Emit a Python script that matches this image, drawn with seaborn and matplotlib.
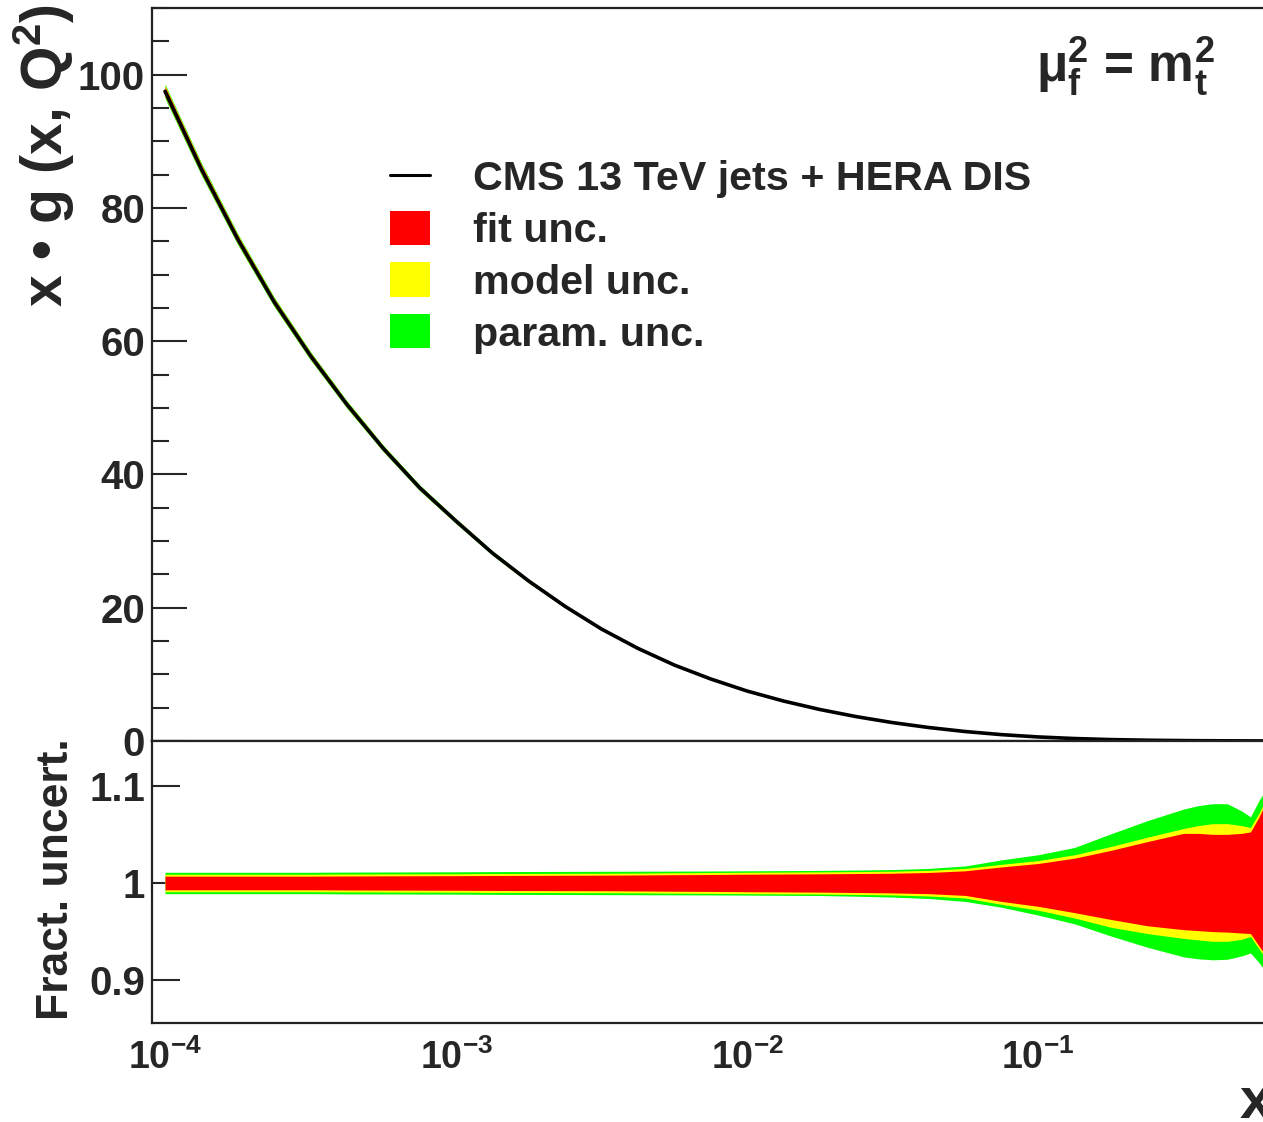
import numpy as np
import pandas as pd
import matplotlib
matplotlib.use('Agg')
import matplotlib.pyplot as plt
import seaborn as sns
from matplotlib.lines import Line2D
from matplotlib.patches import Patch
from matplotlib.ticker import MultipleLocator, FixedLocator, NullFormatter, FuncFormatter, LogLocator

# ---- values ---------------------------------------------------------------
x_vals = [1.0e-4, 1.334e-4, 1.778e-4, 2.371e-4, 3.162e-4, 4.217e-4, 5.623e-4, 7.499e-4,
          1.0e-3, 1.334e-3, 1.778e-3, 2.371e-3, 3.162e-3, 4.217e-3, 5.623e-3, 7.499e-3,
          1.0e-2, 1.334e-2, 1.778e-2, 2.371e-2, 3.162e-2, 4.217e-2, 5.623e-2, 7.499e-2,
          0.1, 0.1334, 0.1778, 0.2371, 0.3162, 0.355, 0.398, 0.447, 0.501, 0.537,
          0.575, 0.617, 0.652]

xg_central = [97.5, 85.8, 75.3, 65.9, 57.8, 50.5, 43.9, 38.0,
              33.0, 28.2, 24.0, 20.2, 16.8, 13.9, 11.4, 9.31,
              7.5, 6.0, 4.73, 3.66, 2.76, 2.02, 1.42, 0.954,
              0.61, 0.37, 0.213, 0.117, 0.061, 0.047, 0.036, 0.027, 0.020, 0.017,
              0.0135, 0.011, 0.009]

# fractional bands (upper / lower edge)
fit_up = [1.0070, 1.0070, 1.0070, 1.0070, 1.0070, 1.0072, 1.0073, 1.0074,
          1.0075, 1.0077, 1.0078, 1.0079, 1.0080, 1.0082, 1.0085, 1.0087,
          1.0090, 1.0092, 1.0094, 1.0097, 1.0100, 1.0108, 1.0125, 1.0165,
          1.0200, 1.0255, 1.0335, 1.0425, 1.0510, 1.0510, 1.0500, 1.0500, 1.0510, 1.0525,
          1.0680, 1.0880, 1.0950]
fit_dn = [0.9930, 0.9930, 0.9930, 0.9930, 0.9930, 0.9928, 0.9927, 0.9926,
          0.9925, 0.9923, 0.9922, 0.9921, 0.9920, 0.9918, 0.9915, 0.9913,
          0.9910, 0.9908, 0.9906, 0.9902, 0.9898, 0.9890, 0.9872, 0.9810,
          0.9760, 0.9695, 0.9625, 0.9560, 0.9520, 0.9510, 0.9500, 0.9495, 0.9485, 0.9480,
          0.9350, 0.9220, 0.9150]
mod_up = [1.0090, 1.0090, 1.0090, 1.0090, 1.0090, 1.0092, 1.0093, 1.0094,
          1.0095, 1.0097, 1.0098, 1.0099, 1.0100, 1.0102, 1.0105, 1.0107,
          1.0110, 1.0112, 1.0114, 1.0117, 1.0121, 1.0130, 1.0150, 1.0192,
          1.0230, 1.0290, 1.0375, 1.0470, 1.0560, 1.0590, 1.0610, 1.0610, 1.0590, 1.0570,
          1.0720, 1.0910, 1.0980]
mod_dn = [0.9910, 0.9910, 0.9910, 0.9910, 0.9910, 0.9908, 0.9907, 0.9906,
          0.9905, 0.9903, 0.9902, 0.9901, 0.9900, 0.9898, 0.9895, 0.9893,
          0.9890, 0.9888, 0.9886, 0.9882, 0.9877, 0.9866, 0.9845, 0.9780,
          0.9720, 0.9640, 0.9545, 0.9480, 0.9430, 0.9415, 0.9400, 0.9400, 0.9420, 0.9450,
          0.9320, 0.9190, 0.9120]
par_up = [1.0110, 1.0110, 1.0110, 1.0110, 1.0110, 1.0112, 1.0113, 1.0114,
          1.0115, 1.0117, 1.0118, 1.0119, 1.0120, 1.0121, 1.0122, 1.0123,
          1.0125, 1.0127, 1.0129, 1.0133, 1.0138, 1.0150, 1.0175, 1.0238,
          1.0290, 1.0365, 1.0505, 1.0640, 1.0760, 1.0795, 1.0815, 1.0815, 1.0740, 1.0680,
          1.0850, 1.1000, 1.1050]
par_dn = [0.9890, 0.9890, 0.9890, 0.9890, 0.9890, 0.9888, 0.9887, 0.9886,
          0.9885, 0.9883, 0.9882, 0.9881, 0.9880, 0.9879, 0.9878, 0.9877,
          0.9875, 0.9873, 0.9871, 0.9864, 0.9855, 0.9840, 0.9810, 0.9750,
          0.9670, 0.9580, 0.9455, 0.9340, 0.9240, 0.9220, 0.9210, 0.9215, 0.9250, 0.9280,
          0.9180, 0.9050, 0.9000]

tick_x = [1e-4, 1e-3, 1e-2, 1e-1]
ratio_ticks = [0.9, 1.0, 1.1]

df = pd.DataFrame({'x': x_vals, 'xg': xg_central,
                   'fit_up': fit_up, 'fit_dn': fit_dn,
                   'mod_up': mod_up, 'mod_dn': mod_dn,
                   'par_up': par_up, 'par_dn': par_dn})

RED, YELLOW, GREEN = '#ff0000', '#ffff00', '#00ff00'

sns.set_style('white')
plt.rcParams['font.family'] = ['Liberation Sans', 'DejaVu Sans']
plt.rcParams['font.weight'] = 'bold'
plt.rcParams['mathtext.fontset'] = 'custom'
plt.rcParams['mathtext.rm'] = 'Liberation Sans:bold'
plt.rcParams['mathtext.bf'] = 'Liberation Sans:bold'
plt.rcParams['mathtext.it'] = 'Liberation Sans:bold'
plt.rcParams['mathtext.default'] = 'rm'

W, H = 1263, 1122
fig = plt.figure(figsize=(W / 100, H / 100), dpi=100)
ax1 = fig.add_axes([152 / W, 1 - 741 / H, (1275 - 152) / W, 733 / H])
ax2 = fig.add_axes([152 / W, 1 - 1023 / H, (1275 - 152) / W, 282 / H])

#-----top panel: x*g with bands----------------------------------------------
ax1.fill_between(df.x, df.xg * df.par_dn, df.xg * df.par_up, color=GREEN, lw=0)
ax1.fill_between(df.x, df.xg * df.mod_dn, df.xg * df.mod_up, color=YELLOW, lw=0)
ax1.fill_between(df.x, df.xg * df.fit_dn, df.xg * df.fit_up, color=RED, lw=0)
sns.lineplot(data=df, x='x', y='xg', ax=ax1, color='black', lw=2.6)

#-----ratio panel------------------------------------------------------------
ax2.fill_between(df.x, df.par_dn, df.par_up, color=GREEN, lw=0)
ax2.fill_between(df.x, df.mod_dn, df.mod_up, color=YELLOW, lw=0)
ax2.fill_between(df.x, df.fit_dn, df.fit_up, color=RED, lw=0)

for ax in (ax1, ax2):
    ax.set_xscale('log')
    ax.set_xlim(9.02e-5, 0.652)
    ax.set_xlabel('')
    ax.set_ylabel('')
    ax.xaxis.set_major_locator(FixedLocator(tick_x))
    ax.xaxis.set_minor_locator(LogLocator(base=10, subs=np.arange(2, 10)))
    ax.xaxis.set_minor_formatter(NullFormatter())
    for s in ax.spines.values():
        s.set_linewidth(1.6)
        s.set_color('#222222')
    ax.spines['right'].set_visible(False)

ax1.set_ylim(0, 110)
ax1.yaxis.set_major_locator(MultipleLocator(20))
ax1.yaxis.set_minor_locator(MultipleLocator(5))
ax1.tick_params(axis='y', which='major', direction='in', length=25, width=1.5,
                labelsize=29, pad=5, left=True, right=False)
ax1.tick_params(axis='y', which='minor', direction='in', length=12.5, width=1.5,
                left=True, right=False)
ax1.tick_params(axis='x', which='major', direction='in', length=16, width=1.2,
                labelbottom=False, top=False)
ax1.tick_params(axis='x', which='minor', direction='in', length=7.5, width=1.2,
                top=False)

ax2.set_ylim(0.856, 1.146)
ax2.yaxis.set_major_locator(FixedLocator(ratio_ticks))
ax2.yaxis.set_major_formatter(FuncFormatter(lambda v, p: f'{v:g}'))
ax2.tick_params(axis='y', which='major', direction='in', length=20, width=1.5,
                labelsize=29, pad=5, left=True, right=False)
ax2.tick_params(axis='x', which='major', direction='in', length=8, width=1.2,
                labelsize=27, pad=12, top=False)
ax2.tick_params(axis='x', which='minor', direction='in', length=3.5, width=1.2,
                top=False)
ax2.xaxis.set_major_formatter(FuncFormatter(
    lambda v, p: r'$10^{%d}$' % int(round(np.log10(v)))))

#-----texts------------------------------------------------------------------
fig.text(44 / W, 1 - 4 / H, 'x • g (x, Q$^{2}$)', rotation=90, ha='center',
         va='top', fontsize=41, fontweight='bold')
fig.text(57 / W, 1 - 738 / H, 'Fract. uncert.', rotation=90, ha='center',
         va='top', fontsize=32, fontweight='bold')
fig.text(1240 / W, 1 - 1103 / H, 'x', ha='left', va='center', fontsize=42,
         fontweight='bold')
fig.text(1215 / W, 1 - 82 / H, r'μ$_{f}^{2}$ = m$_{t}^{2}$', ha='right',
         va='baseline', fontsize=37, fontweight='bold')

handles = [Line2D([], [], color='black', lw=2.2),
           Patch(facecolor=RED, edgecolor='none'),
           Patch(facecolor=YELLOW, edgecolor='none'),
           Patch(facecolor=GREEN, edgecolor='none')]
labels = ['CMS 13 TeV jets + HERA DIS', 'fit unc.', 'model unc.', 'param. unc.']
fig.legend(handles, labels, loc='upper left', bbox_to_anchor=(390 / W, 1 - 159 / H),
           bbox_transform=fig.transFigure, frameon=False, fontsize=29.7,
           handlelength=0.98, handleheight=0.9, handletextpad=1.03,
           labelspacing=0.3, borderpad=0, borderaxespad=0)

fig.savefig('out.png', dpi=100)
